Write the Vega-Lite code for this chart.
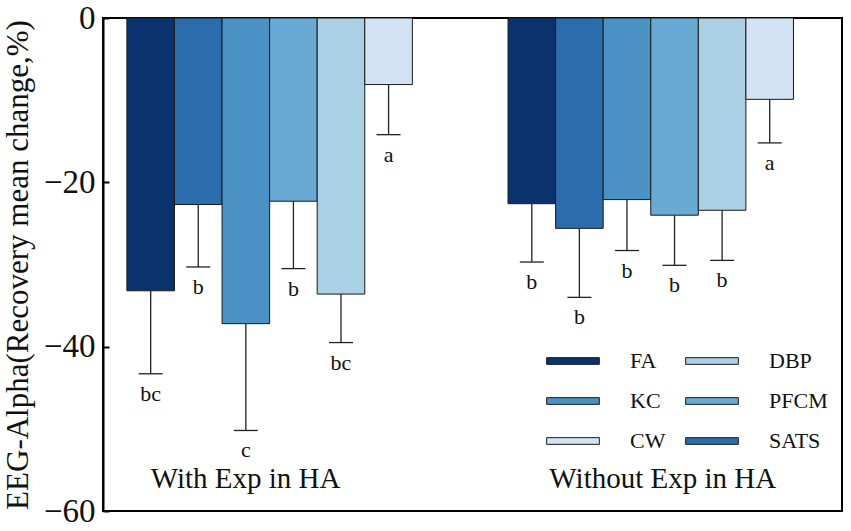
{
  "$schema": "https://vega.github.io/schema/vega-lite/v6.json",
  "width": 739,
  "height": 493,
  "autosize": {"type": "none"},
  "padding": {"left": 103, "top": 18, "right": 9, "bottom": 20},
  "background": "white",
  "config": {
    "view": {"stroke": "#000", "strokeWidth": 2},
    "font": "Liberation Serif"
  },
  "datasets": {
    "bars": [
      {"group": "With Exp in HA", "treat": "FA", "mean": -33.2, "lower": -43.3, "letter": "bc"},
      {"group": "With Exp in HA", "treat": "SATS", "mean": -22.7, "lower": -30.3, "letter": "b"},
      {"group": "With Exp in HA", "treat": "KC", "mean": -37.2, "lower": -50.2, "letter": "c"},
      {"group": "With Exp in HA", "treat": "PFCM", "mean": -22.3, "lower": -30.5, "letter": "b"},
      {"group": "With Exp in HA", "treat": "DBP", "mean": -33.6, "lower": -39.5, "letter": "bc"},
      {"group": "With Exp in HA", "treat": "CW", "mean": -8.1, "lower": -14.2, "letter": "a"},
      {"group": "Without Exp in HA", "treat": "FA", "mean": -22.6, "lower": -29.7, "letter": "b"},
      {"group": "Without Exp in HA", "treat": "SATS", "mean": -25.6, "lower": -34.0, "letter": "b"},
      {"group": "Without Exp in HA", "treat": "KC", "mean": -22.1, "lower": -28.3, "letter": "b"},
      {"group": "Without Exp in HA", "treat": "PFCM", "mean": -24.0, "lower": -30.1, "letter": "b"},
      {"group": "Without Exp in HA", "treat": "DBP", "mean": -23.4, "lower": -29.5, "letter": "b"},
      {"group": "Without Exp in HA", "treat": "CW", "mean": -9.9, "lower": -15.2, "letter": "a"}
    ],
    "groups": [
      {"group": "With Exp in HA", "pos": -57.2},
      {"group": "Without Exp in HA", "pos": -57.2}
    ]
  },
  "data": {"name": "bars"},
  "encoding": {
    "x": {
      "field": "group",
      "type": "nominal",
      "sort": ["With Exp in HA", "Without Exp in HA"],
      "scale": {"paddingInner": 0.251, "paddingOuter": 0.095, "align": 0.33},
      "axis": null
    }
  },
  "layer": [
    {
      "mark": {"type": "bar", "stroke": "#1a1a1a", "strokeWidth": 1},
      "encoding": {
        "xOffset": {"field": "treat", "sort": ["FA", "SATS", "KC", "PFCM", "DBP", "CW"], "scale": {"paddingInner": 0, "paddingOuter": 0}},
        "y": {
          "field": "mean",
          "type": "quantitative",
          "title": "EEG-Alpha(Recovery mean change,%)",
          "scale": {"domain": [-60, 0], "nice": false, "zero": false},
          "axis": {
            "values": [0, -20, -40, -60],
            "grid": false,
            "labelFont": "Liberation Serif",
            "labelFontSize": 33,
            "labelColor": "#111",
            "labelPadding": 14,
            "tickSize": -6,
            "tickWidth": 2,
            "tickColor": "#000",
            "domainColor": "#000",
            "domainWidth": 2,
            "titleFont": "Liberation Serif",
            "titleFontSize": 31,
            "titleFontWeight": "normal",
            "titleColor": "#111",
            "titlePadding": 9
          }
        },
        "color": {
          "field": "treat",
          "type": "nominal",
          "scale": {
            "domain": ["FA", "KC", "CW", "DBP", "PFCM", "SATS"],
            "range": ["#0a326c", "#4a92c4", "#d2e3f3", "#abcfe5", "#69aad5", "#2b6cad"]
          },
          "legend": {
            "orient": "none",
            "legendX": 443,
            "legendY": 316,
            "columns": 2,
            "title": null,
            "padding": 0,
            "symbolType": "M-1,-0.127H1V0.127H-1Z",
            "symbolSize": 2777,
            "symbolStrokeColor": "#1a1a1a",
            "symbolStrokeWidth": 1,
            "symbolOpacity": 1,
            "labelFont": "Liberation Serif",
            "labelFontSize": 22,
            "labelColor": "#111",
            "labelOffset": 30,
            "rowPadding": 2,
            "columnPadding": 17
          }
        }
      }
    },
    {
      "mark": {"type": "rule", "color": "#222", "strokeWidth": 1.3},
      "encoding": {
        "xOffset": {"field": "treat", "sort": ["FA", "SATS", "KC", "PFCM", "DBP", "CW"]},
        "y": {"field": "mean", "type": "quantitative", "title": "EEG-Alpha(Recovery mean change,%)"},
        "y2": {"field": "lower"}
      }
    },
    {
      "mark": {"type": "tick", "size": 24, "thickness": 1.3, "color": "#222", "opacity": 1},
      "encoding": {
        "xOffset": {"field": "treat", "sort": ["FA", "SATS", "KC", "PFCM", "DBP", "CW"]},
        "y": {"field": "lower", "type": "quantitative", "title": "EEG-Alpha(Recovery mean change,%)"}
      }
    },
    {
      "mark": {"type": "text", "baseline": "top", "dy": 10, "fontSize": 22, "font": "Liberation Serif", "color": "#111"},
      "encoding": {
        "xOffset": {"field": "treat", "sort": ["FA", "SATS", "KC", "PFCM", "DBP", "CW"]},
        "y": {"field": "lower", "type": "quantitative", "title": "EEG-Alpha(Recovery mean change,%)"},
        "text": {"field": "letter"}
      }
    },
    {
      "data": {"name": "groups"},
      "transform": [{"filter": "datum.group == 'With Exp in HA'"}],
      "mark": {"type": "text", "baseline": "alphabetic", "dx": -24, "fontSize": 29, "font": "Liberation Serif", "color": "#111"},
      "encoding": {
        "y": {"field": "pos", "type": "quantitative", "title": "EEG-Alpha(Recovery mean change,%)"},
        "text": {"field": "group"}
      }
    },
    {
      "data": {"name": "groups"},
      "transform": [{"filter": "datum.group == 'Without Exp in HA'"}],
      "mark": {"type": "text", "baseline": "alphabetic", "dx": 12, "fontSize": 29, "font": "Liberation Serif", "color": "#111"},
      "encoding": {
        "y": {"field": "pos", "type": "quantitative", "title": "EEG-Alpha(Recovery mean change,%)"},
        "text": {"field": "group"}
      }
    }
  ]
}
